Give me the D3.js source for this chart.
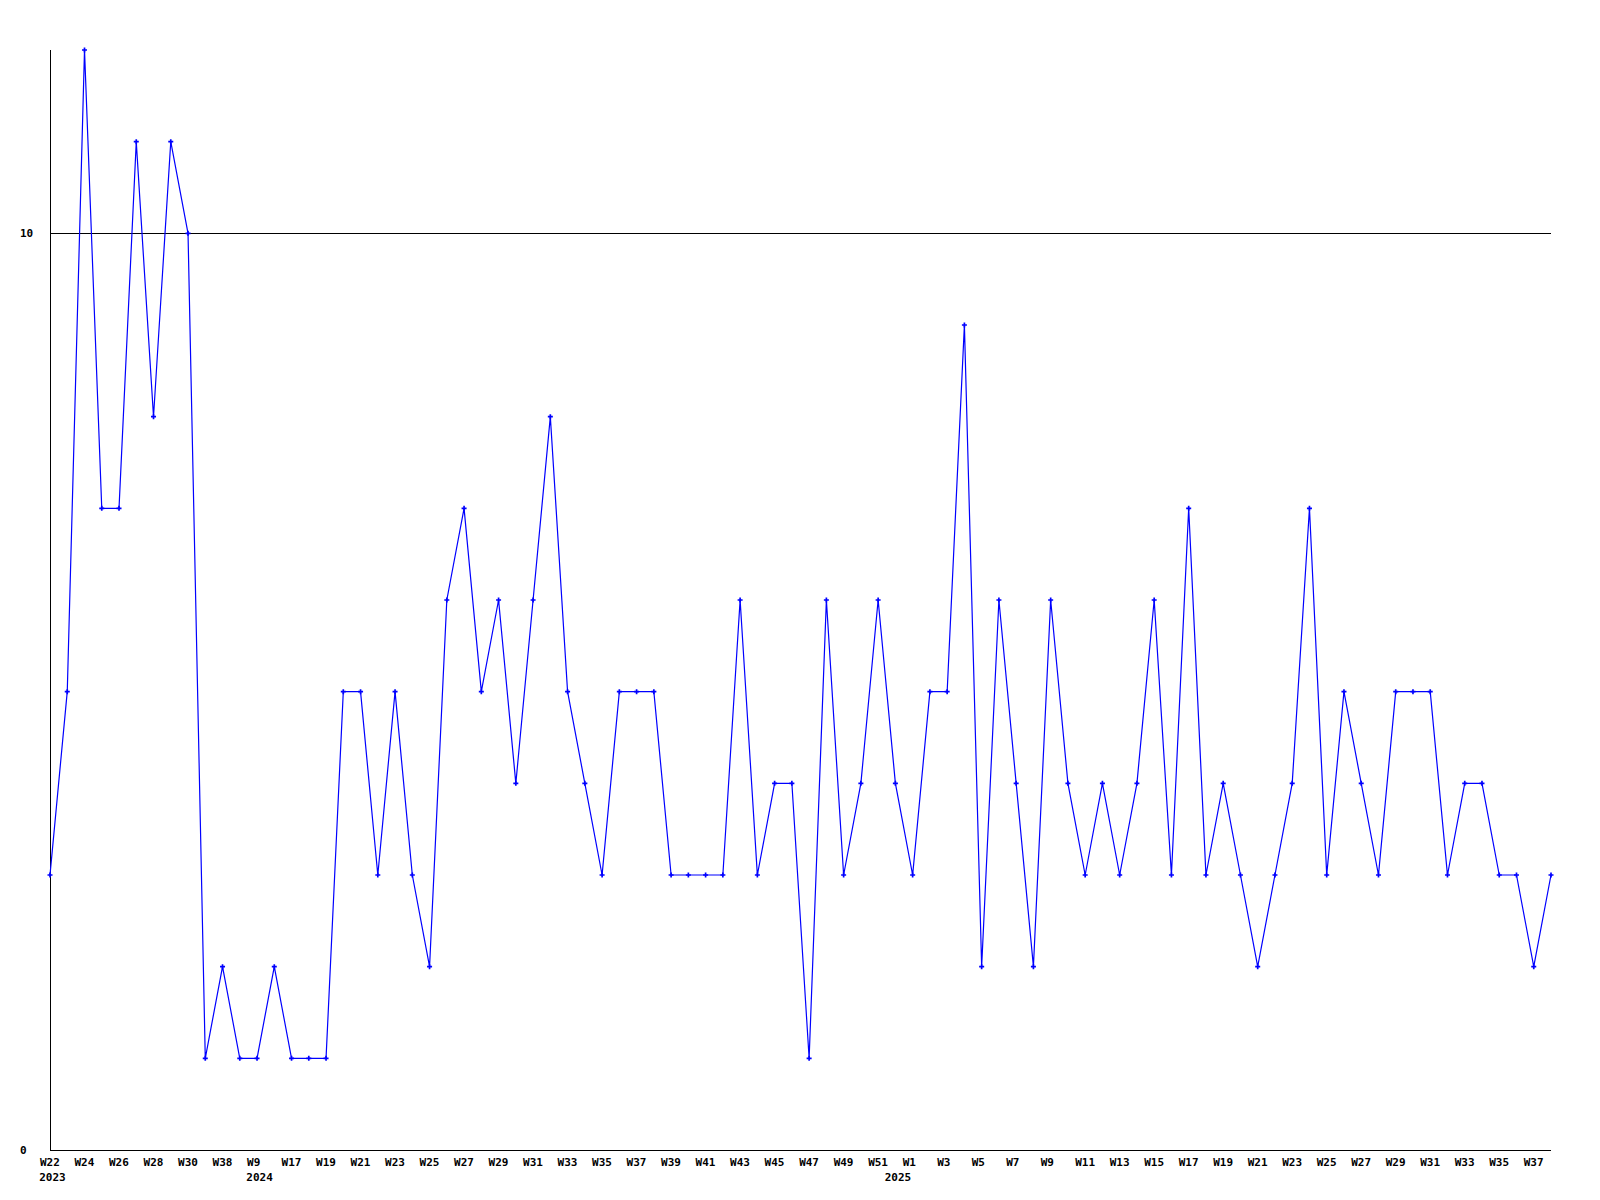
<!DOCTYPE html>
<html>
<head>
<meta charset="utf-8">
<script src="https://cdn.jsdelivr.net/npm/d3@7"></script>
<style>
  html, body { margin: 0; padding: 0; background: #ffffff; }
  svg text { font-family: "DejaVu Sans Mono", "Liberation Mono", monospace; font-weight: bold; font-size: 11px; fill: #000; }
</style>
</head>
<body>
<svg id="chart" width="1600" height="1200"></svg>
<script>
// ---- data ----
const weeks = [
  "W22","W23","W24","W25","W26","W27","W28","W29","W30","W31","W38","W39",
  "W9","W16","W17","W18","W19","W20","W21","W22","W23","W24","W25","W26",
  "W27","W28","W29","W30","W31","W32","W33","W34","W35","W36","W37","W38",
  "W39","W40","W41","W42","W43","W44","W45","W46","W47","W48","W49","W50",
  "W51","W52","W1","W2","W3","W4","W5","W6","W7","W8","W9","W10",
  "W11","W12","W13","W14","W15","W16","W17","W18","W19","W20","W21","W22",
  "W23","W24","W25","W26","W27","W28","W29","W30","W31","W32","W33","W34",
  "W35","W36","W37","W38"
];
const years = [
  "2023","2023","2023","2023","2023","2023","2023","2023","2023","2023","2023","2023",
  "2024","2024","2024","2024","2024","2024","2024","2024","2024","2024","2024","2024",
  "2024","2024","2024","2024","2024","2024","2024","2024","2024","2024","2024","2024",
  "2024","2024","2024","2024","2024","2024","2024","2024","2024","2024","2024","2024",
  "2024","2024","2025","2025","2025","2025","2025","2025","2025","2025","2025","2025",
  "2025","2025","2025","2025","2025","2025","2025","2025","2025","2025","2025","2025",
  "2025","2025","2025","2025","2025","2025","2025","2025","2025","2025","2025","2025",
  "2025","2025","2025","2025"
];
const values = [
  3,5,12,7,7,11,8,11,10,1,2,1,
  1,2,1,1,1,5,5,3,5,3,2,6,
  7,5,6,4,6,8,5,4,3,5,5,5,
  3,3,3,3,6,3,4,4,1,6,3,4,
  6,4,3,5,5,9,2,6,4,2,6,4,
  3,4,3,4,6,3,7,3,4,3,2,3,
  4,7,3,5,4,3,5,5,5,3,4,4,
  3,3,2,3
];
const yTickValues = [0, 10];
const yearLabels = [
  { text: "2023", index: 0 },
  { text: "2024", index: 12 },
  { text: "2025", index: 49 }
];

// ---- chart ----
(function () {
  const keys = weeks.map((w, i) => years[i] + "-" + w + "-" + i);
  const data = keys.map((k, i) => ({ key: k, week: weeks[i], value: values[i], i }));

  const svg = d3.select("#chart");
  const mLeft = 50, mRight = 1551, mTop = 50, mBottom = 1150;

  const x = d3.scalePoint().domain(keys).range([mLeft, mRight]);
  const y = d3.scaleLinear().domain([0, 12]).range([mBottom, mTop]);

  // gridline at 10
  svg.append("g").selectAll("line").data(yTickValues.filter(v => v !== 0)).join("line")
    .attr("x1", mLeft).attr("x2", mRight)
    .attr("y1", d => Math.round(y(d)) + 0.5).attr("y2", d => Math.round(y(d)) + 0.5)
    .attr("stroke", "#000").attr("stroke-width", 1).attr("shape-rendering", "crispEdges");

  // axes lines
  svg.append("line")
    .attr("x1", mLeft + 0.5).attr("x2", mLeft + 0.5).attr("y1", mTop).attr("y2", mBottom + 0.5)
    .attr("stroke", "#000").attr("shape-rendering", "crispEdges");
  svg.append("line")
    .attr("x1", mLeft).attr("x2", mRight).attr("y1", mBottom + 0.5).attr("y2", mBottom + 0.5)
    .attr("stroke", "#000").attr("shape-rendering", "crispEdges");

  // y tick labels
  svg.append("g").selectAll("text").data(yTickValues).join("text")
    .attr("x", 20).attr("y", d => y(d) + 4)
    .text(d => d);

  // x tick labels (every second point)
  svg.append("g").selectAll("text").data(data.filter(d => d.i % 2 === 0)).join("text")
    .attr("x", d => x(d.key) - 10).attr("y", 1166)
    .text(d => d.week);

  // year labels
  svg.append("g").selectAll("text").data(yearLabels).join("text")
    .attr("x", d => x(keys[d.index]) + 2.5).attr("y", 1181)
    .attr("text-anchor", "middle")
    .text(d => d.text);

  // line
  const line = d3.line().x(d => x(d.key)).y(d => y(d.value));
  svg.append("path").datum(data)
    .attr("d", line)
    .attr("fill", "none").attr("stroke", "#0000ff").attr("stroke-width", 1.2);

  // markers
  svg.append("g").selectAll("path").data(data).join("path")
    .attr("transform", d => `translate(${x(d.key)},${y(d.value)})`)
    .attr("d", d3.symbol().type(d3.symbolCross).size(14))
    .attr("fill", "#0000ff");
})();
</script>
</body>
</html>
